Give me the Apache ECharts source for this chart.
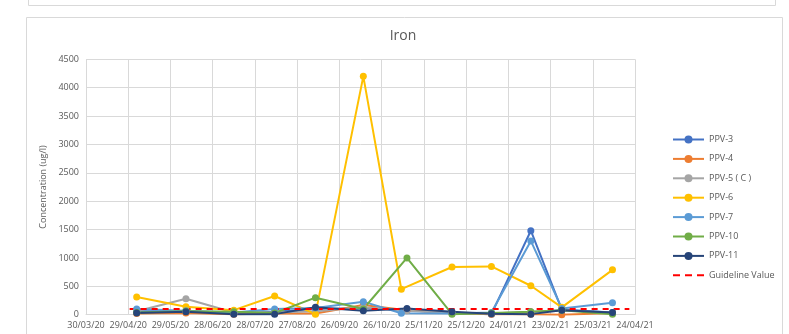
<!DOCTYPE html>
<html>
<head>
<meta charset="utf-8">
<script src="https://cdn.jsdelivr.net/npm/echarts@6/dist/echarts.min.js"></script>
<style>
html,body{margin:0;padding:0;background:#fff;}
#c{width:789px;height:334px;}
</style>
</head>
<body>
<div id="c"></div>
<script>
// ---- data ----
const axisStart = '2020-03-30';
const axisEnd = '2021-04-24';
const tickDays = 30;
const datesA = ['2020-05-05','2020-06-09','2020-07-13','2020-08-11','2020-09-09','2020-10-13','2020-11-09','2020-12-15','2021-01-12','2021-02-09','2021-03-03','2021-04-08'];
const datesB = ['2020-05-05','2020-06-09','2020-07-13','2020-08-11','2020-09-09','2020-10-13','2020-11-13','2020-12-15','2021-01-12','2021-02-09','2021-03-03','2021-04-08'];
const ppv3  = [60, 60, 20, 50, 100, 120, 80, 30, 10, 1480, 90, 40];
const ppv4  = [20, 30, 10, 20, 20, 170, 80, 30, 10, 10, 0, 30];
const ppv5  = [60, 280, 40, 40, 60, 130, 70, 30, 20, 50, 80, 30];
const ppv6  = [310, 140, 80, 330, 10, 4200, 450, 840, 850, 510, 130, 790];
const ppv7  = [100, 70, 40, 100, 120, 230, 25, 20, 40, 1300, 110, 210];
const ppv10 = [40, 60, 50, 30, 300, 100, 1000, 10, 30, 50, 80, 10];
const ppv11 = [30, 50, 10, 10, 130, 70, 110, 50, 15, 10, 80, 40];
const guideDates = ['2020-04-30','2021-04-20'];
const guideValues = [100, 100];

const seriesDefs = [
  {name:'PPV-3', dates:datesB, values:ppv3, color:'#4472C4'},
  {name:'PPV-4', dates:datesB, values:ppv4, color:'#ED7D31'},
  {name:'PPV-5 ( C )', dates:datesB, values:ppv5, color:'#A5A5A5'},
  {name:'PPV-6', dates:datesA, values:ppv6, color:'#FFC000'},
  {name:'PPV-7', dates:datesA, values:ppv7, color:'#5B9BD5'},
  {name:'PPV-10', dates:datesB, values:ppv10, color:'#70AD47'},
  {name:'PPV-11', dates:datesB, values:ppv11, color:'#264478'}
];

const DAY = 86400000;
const base = Date.UTC(2020,2,30);
function toDay(s){ const p=s.split('-').map(Number); return Math.round((Date.UTC(p[0],p[1]-1,p[2])-base)/DAY); }
function fmt(v){ const d=new Date(base+v*DAY); const dd=String(d.getUTCDate()).padStart(2,'0'); const mm=String(d.getUTCMonth()+1).padStart(2,'0'); const yy=String(d.getUTCFullYear()).slice(2); return dd+'/'+mm+'/'+yy; }

const font = '"Open Sans", "Noto Sans", sans-serif';
const txt = '#595959';

const series = seriesDefs.map(s => ({
  name: s.name, type:'line', symbol:'circle', symbolSize:7,
  data: s.dates.map((d,i)=>[toDay(d), s.values[i]]),
  itemStyle:{color:s.color}, lineStyle:{color:s.color, width:2},
  animation:false
}));
series.push({
  name:'Guideline Value', type:'line', symbol:'none',
  data: guideDates.map((d,i)=>[toDay(d), guideValues[i]]),
  itemStyle:{color:'#FF0000'}, lineStyle:{color:'#FF0000', width:2, type:[6,5]},
  animation:false
});

const chart = echarts.init(document.getElementById('c'));
chart.setOption({
  animation:false,
  graphic:[
    {type:'rect', shape:{x:28.5,y:-10,width:747,height:15.5}, style:{fill:'none', stroke:'#d9d9d9', lineWidth:1}},
    {type:'rect', shape:{x:26.5,y:17.5,width:756,height:330}, style:{fill:'none', stroke:'#d9d9d9', lineWidth:1}},
    {type:'text', x:403, y:36, style:{text:'Iron', fill:txt, font:'14px '+font, textAlign:'center', textVerticalAlign:'middle'}}
  ],
  legend:{
    orient:'vertical', left:667, top:130, itemWidth:31, itemHeight:10, itemGap:10.4,
    textStyle:{color:txt, fontSize:9, fontFamily:font},
    data: seriesDefs.map(s=>s.name).concat([{name:'Guideline Value', icon:'path://M0,0h7v2h-7zM12,0h7v2h-7zM24,0h7v2h-7z', itemStyle:{color:'#FF0000'}}])
  },
  grid:{left:86, right:154, top:59.3, bottom:19.3, containLabel:false},
  xAxis:{
    type:'value', min:0, max:toDay(axisEnd), interval:tickDays,
    axisLine:{show:true, lineStyle:{color:'#d9d9d9'}},
    axisTick:{show:false},
    splitLine:{show:true, lineStyle:{color:'#d9d9d9'}},
    axisLabel:{formatter:fmt, color:txt, fontSize:9, fontFamily:font, margin:6, hideOverlap:false, showMinLabel:true, showMaxLabel:true}
  },
  yAxis:{
    type:'value', min:0, max:4500, interval:500,
    name:'Concentration (ug/l)', nameLocation:'middle', nameGap:36,
    nameTextStyle:{color:txt, fontSize:9, fontFamily:font},
    axisLine:{show:false}, axisTick:{show:false},
    splitLine:{show:true, lineStyle:{color:'#d9d9d9'}},
    axisLabel:{color:txt, fontSize:9, fontFamily:font, margin:7, formatter:v=>String(v)}
  },
  series: series
});
</script>
</body>
</html>
